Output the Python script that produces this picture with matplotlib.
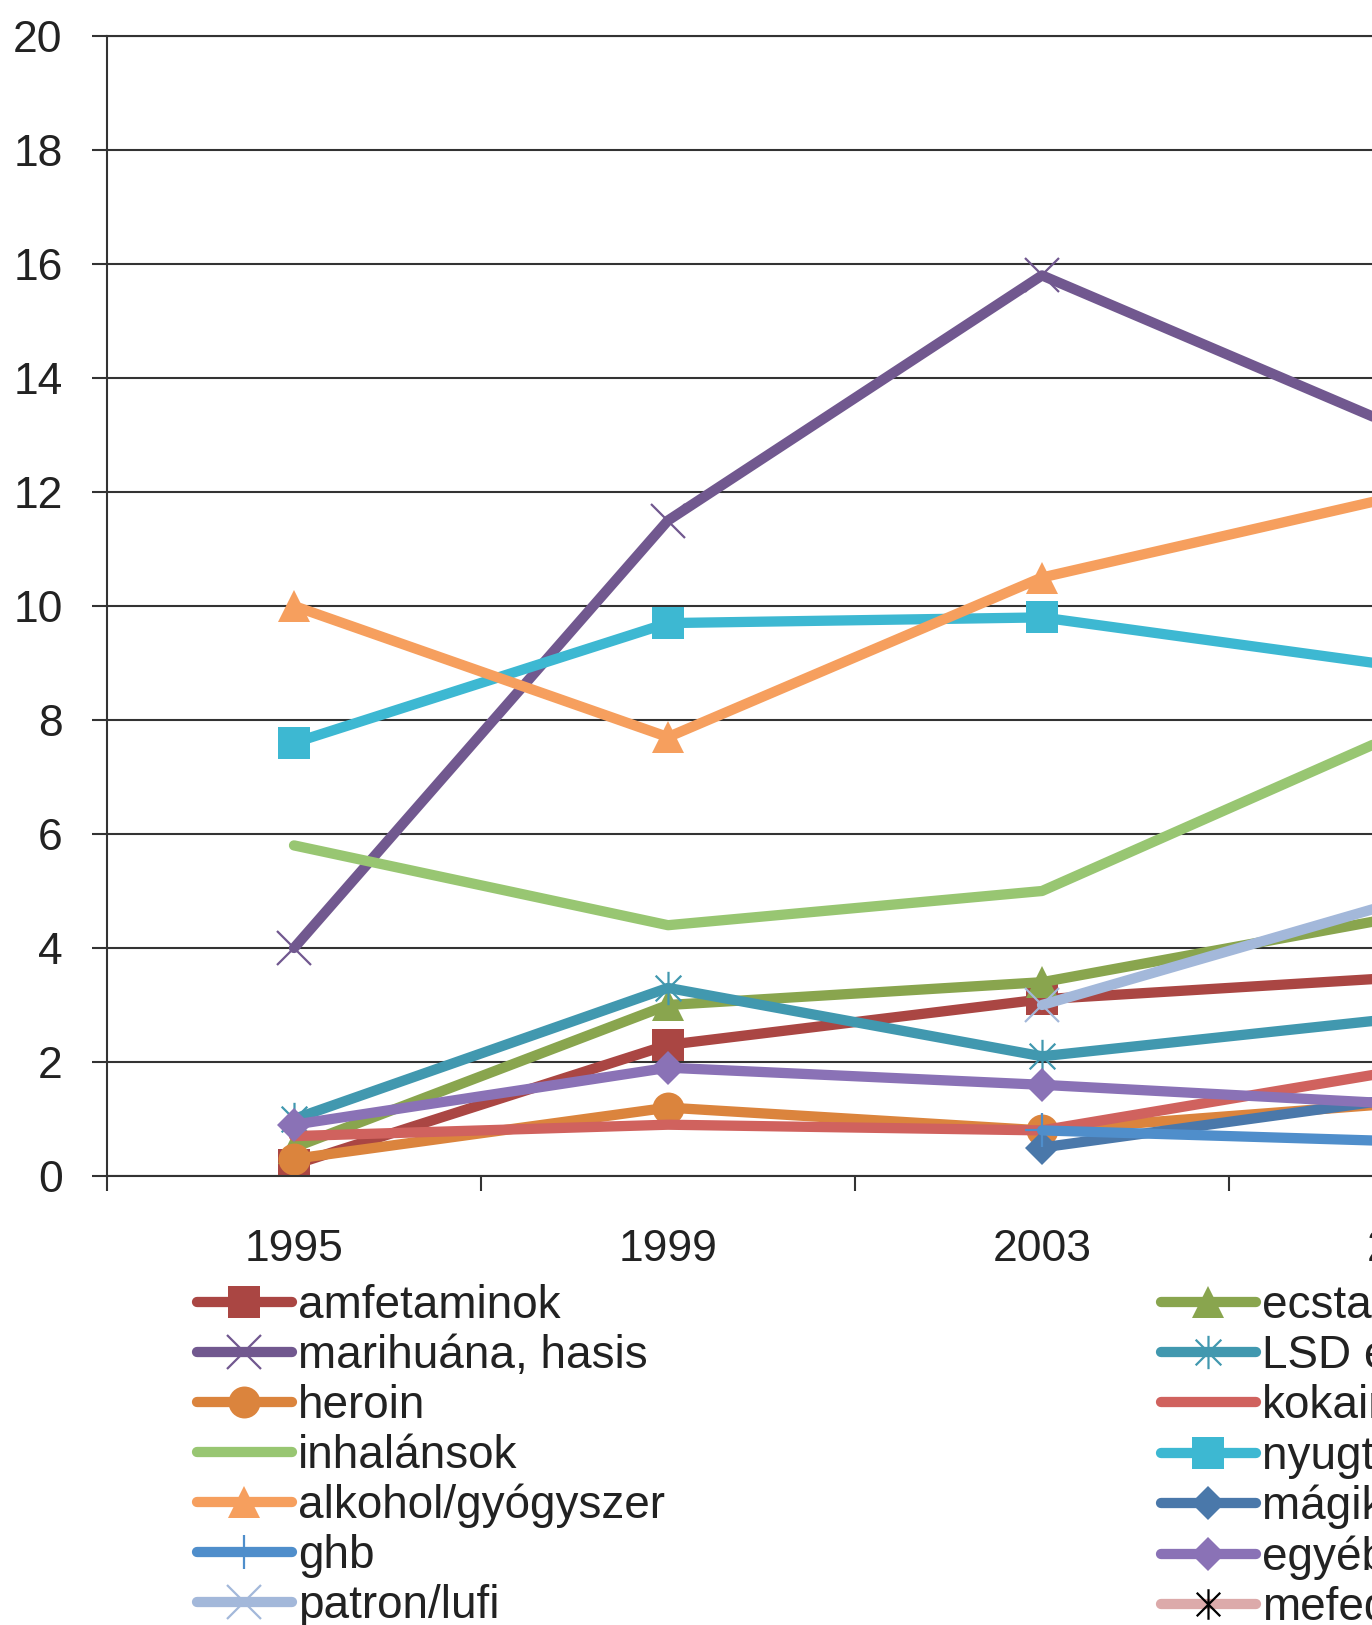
import matplotlib
matplotlib.use("Agg")
import matplotlib.pyplot as plt
from matplotlib.path import Path
import numpy as np

plt.rcParams['font.family'] = ['Liberation Sans', 'DejaVu Sans']

nan = np.nan
years = ["1995", "1999", "2003", "2007"]

amfetaminok = [0.2, 2.3, 3.1, 3.5]
ecstasy = [0.5, 3.0, 3.4, 4.6]
marihuana = [4.0, 11.5, 15.8, 13.0]
lsd = [1.0, 3.3, 2.1, 2.8]
heroin = [0.3, 1.2, 0.8, 1.3]
kokain = [0.7, 0.9, 0.8, 1.9]
inhalansok = [5.8, 4.4, 5.0, 7.9]
nyugtatok = [7.6, 9.7, 9.8, 8.9]
alkohol = [10.0, 7.7, 10.5, 12.0]
magikus = [nan, nan, 0.5, 1.4]
ghb = [nan, nan, 0.8, 0.6]
egyeb = [0.9, 1.9, 1.6, 1.25]
patron = [nan, nan, 3.0, 4.9]
mefedron = [nan, nan, nan, nan]

# Excel-style asterisk: X plus vertical bar
star = Path([(-1, -1), (1, 1), (-1, 1), (1, -1), (0, -1.3), (0, 1.3)],
            [Path.MOVETO, Path.LINETO, Path.MOVETO, Path.LINETO, Path.MOVETO, Path.LINETO])

# label, values, color, marker, markersize, edge width
series = [
    ("amfetaminok", amfetaminok, "#AA4643", "s", 23, 0),
    ("ecstasy", ecstasy, "#89A54E", "^", 23, 0),
    ("marihuána, hasis", marihuana, "#71588F", "x", 25, 1.6),
    ("LSD és más hallucinogének", lsd, "#4198AF", star, 24, 1.6),
    ("heroin", heroin, "#DB843D", "o", 23, 0),
    ("kokain", kokain, "#D0625E", None, 0, 0),
    ("inhalánsok", inhalansok, "#98C672", None, 0, 0),
    ("nyugtatók, altatók", nyugtatok, "#3DB8D2", "s", 23, 0),
    ("alkohol/gyógyszer", alkohol, "#F69F5E", "^", 23, 0),
    ("mágikus gomba", magikus, "#4A78AA", "D", 17, 0),
    ("ghb", ghb, "#4F8ECB", "+", 25, 1.6),
    ("egyéb", egyeb, "#8A72B6", "D", 17, 0),
    ("patron/lufi", patron, "#A3B8DA", "x", 25, 1.6),
    ("mefedron", mefedron, "#DCAAAA", star, 22, 1.6),
]

fig = plt.figure(figsize=(13.72, 16.25), dpi=100)
ax = fig.add_axes([107 / 1372, 449 / 1625, 4 * 374 / 1372, 1140 / 1625])

x = np.arange(len(years))
handles = []
for label, vals, col, mk, ms, mew in series:
    mec = "black" if label == "mefedron" else col
    line, = ax.plot(x, vals, color=col, lw=7.4, marker=mk, markersize=ms,
                    markeredgewidth=mew, markeredgecolor=mec,
                    solid_joinstyle="round", solid_capstyle="round", label=label)
    handles.append(line)

ax.set_xlim(-0.5, len(years) - 0.5)
ax.set_ylim(0, 20)
ax.set_yticks(np.arange(0, 21, 2))
ax.yaxis.grid(True, color="#333333", lw=1.5)
ax.set_axisbelow(True)

ax.set_xticks(np.arange(-0.5, len(years), 1))
ax.set_xticklabels([])
ax.set_xticks(x, minor=True)
ax.set_xticklabels(years, minor=True)
ax.tick_params(axis="x", which="major", length=11, width=1.5, color="#333333", direction="out")
ax.tick_params(axis="x", which="minor", length=0, pad=38, labelsize=32, labelcolor="#222222")
ax.tick_params(axis="y", length=11, width=1.5, color="#333333", pad=21, labelsize=32,
               labelcolor="#222222")

for side in ["left", "bottom", "top"]:
    ax.spines[side].set_color("#333333")
    ax.spines[side].set_linewidth(1.5)
ax.spines["right"].set_visible(False)

# legend in two columns, Excel order is row-wise
left = handles[0::2]
right = handles[1::2]
kw = dict(frameon=False, fontsize=33, handlelength=2.07, handletextpad=0.13,
          labelspacing=0.13, borderpad=0, borderaxespad=0, loc="upper left")
leg1 = fig.legend(handles=left, bbox_to_anchor=(197 / 1372, 1 - 1284 / 1625), **kw)
leg2 = fig.legend(handles=right, bbox_to_anchor=(1161 / 1372, 1 - 1284 / 1625), **kw)
for leg in (leg1, leg2):
    for t in leg.get_texts():
        t.set_color("#222222")

fig.savefig("out.png", dpi=100)
